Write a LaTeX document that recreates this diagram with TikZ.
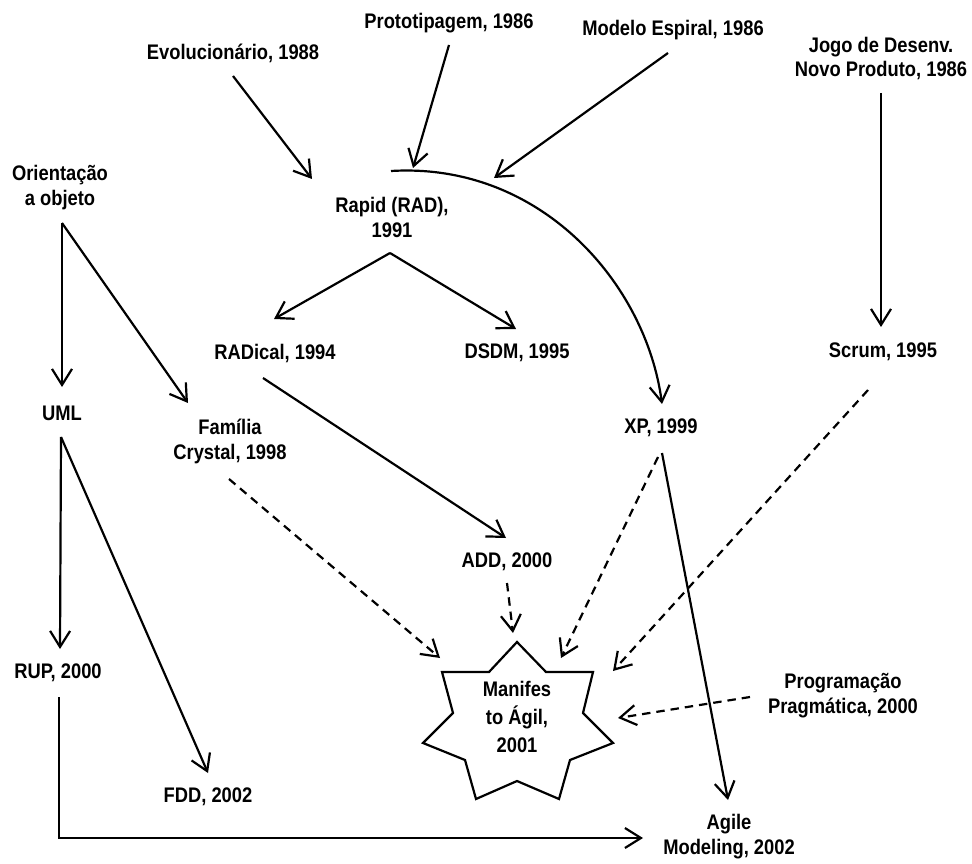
\documentclass[tikz,border=0pt]{standalone}
\usepackage{fontspec}
\setmainfont{Liberation Sans}[FakeStretch=0.87]
\usetikzlibrary{arrows.meta}
\begin{document}
\begin{tikzpicture}[x=0.02cm,y=-0.02cm,
  lbl/.style={inner sep=0pt, align=center,
    font=\fontsize{12}{14.2}\selectfont\bfseries},
  plain/.style={line width=1.25pt},
  conn/.style={plain, -{Straight Barb[length=0.32cm,width=0.4cm]}},
  dashconn/.style={conn, dash pattern=on 4.8pt off 3.4pt}]
\useasboundingbox (0,0) rectangle (972,864);

% --- method labels ---
\node[lbl] (evo)    at (233,53)    {Evolucionário, 1988};
\node[lbl] (proto)  at (449,23)    {Prototipagem, 1986};
\node[lbl] (espiral)at (673,30)    {Modelo Espiral, 1986};
\node[lbl] (jogo)   at (881,58.5)  {Jogo de Desenv.\\Novo Produto, 1986};
\node[lbl] (oo)     at (60,187.5)  {Orientação\\a objeto};
\node[lbl] (rapid)  at (392,217.5) {Rapid (RAD),\\1991};
\node[lbl] (radical)at (275,353)   {RADical, 1994};
\node[lbl] (dsdm)   at (517,353)   {DSDM, 1995};
\node[lbl] (scrum)  at (883,352)   {Scrum, 1995};
\node[lbl] (uml)    at (62,413)    {UML};
\node[lbl] (familia)at (230,441.5) {Família\\Crystal, 1998};
\node[lbl] (xp)     at (661,428)   {XP, 1999};
\node[lbl] (add)    at (507,562)   {ADD, 2000};
\node[lbl] (rup)    at (58,673)    {RUP, 2000};
\node[lbl] (prog)   at (843,695.5) {Programação\\Pragmática, 2000};
\node[lbl] (fdd)    at (208,797)   {FDD, 2002};
\node[lbl] (agile)  at (729,836.5) {Agile\\Modeling, 2002};

% --- eight-pointed star of the manifesto ---
\draw[plain, line join=miter]
  (517,642) -- (489,672) -- (442,672) -- (453,713) -- (423,743) --
  (465,760) -- (476,799) -- (517,781) -- (559,799) -- (570,760) --
  (613,743) -- (583,713) -- (593,672) -- (546,672) -- cycle;
\node[lbl, font=\fontsize{12}{15.9}\selectfont\bfseries] (manif) at (517,717)
  {Manifes\\to Ágil,\\2001};

% --- connector ports ---
\coordinate (evo-s)     at (233,76);
\coordinate (rapid-in)  at (312,179);
\coordinate (proto-s)   at (449,45);
\coordinate (arc-a)     at (413,168);
\coordinate (espiral-s) at (668,53);
\coordinate (arc-b)     at (494,178);
\coordinate (arc-0)     at (391,171);
\coordinate (xp-n)      at (662,404);
\coordinate (rapid-s)   at (390,253);
\coordinate (radical-n) at (274,319);
\coordinate (dsdm-n)    at (516,329);
\coordinate (jogo-s)    at (881,93);
\coordinate (scrum-n)   at (881,327);
\coordinate (oo-s)      at (62,223);
\coordinate (uml-n)     at (62,387);
\coordinate (familia-n) at (188,403);
\coordinate (uml-s)     at (61,437);
\coordinate (rup-n)     at (60,649);
\coordinate (fdd-n)     at (208,773);
\coordinate (rup-s)     at (59,697);
\coordinate (corner)    at (59,838);
\coordinate (agile-w)   at (643,838);
\coordinate (familia-s) at (229,479);
\coordinate (manif-nw)  at (440,658);
\coordinate (radical-s) at (263,378);
\coordinate (add-n)     at (506,538);
\coordinate (add-s)     at (507,583);
\coordinate (manif-n)   at (513,633);
\coordinate (xp-s1)     at (658,457);
\coordinate (manif-ne)  at (561,658);
\coordinate (xp-s2)     at (662,453);
\coordinate (agile-n)   at (728,800);
\coordinate (scrum-s)   at (868,390);
\coordinate (manif-e)   at (613,671);
\coordinate (prog-w)    at (750,697);
\coordinate (manif-e2)  at (618,718);

% --- solid connectors ---
\draw[conn] (evo-s) -- (rapid-in);
\draw[conn] (proto-s) -- (arc-a);
\draw[conn] (espiral-s) -- (arc-b);
\draw[conn] (arc-0) .. controls (541,162) and (646,284) .. (xp-n);
\draw[conn] (rapid-s) -- (radical-n);
\draw[conn] (rapid-s) -- (dsdm-n);
\draw[conn] (jogo-s) -- (scrum-n);
\draw[conn] (oo-s) -- (uml-n);
\draw[conn] (oo-s) -- (familia-n);
\draw[conn] (uml-s) -- (rup-n);
\draw[conn] (uml-s) -- (fdd-n);
\draw[conn] (rup-s) -- (corner) -- (agile-w);
\draw[conn] (radical-s) -- (add-n);
\draw[conn] (xp-s2) -- (agile-n);

% --- dashed connectors into the manifesto ---
\draw[dashconn] (familia-s) -- (manif-nw);
\draw[dashconn] (add-s) -- (manif-n);
\draw[dashconn] (xp-s1) -- (manif-ne);
\draw[dashconn] (scrum-s) -- (manif-e);
\draw[dashconn] (prog-w) -- (manif-e2);
\end{tikzpicture}
\end{document}
